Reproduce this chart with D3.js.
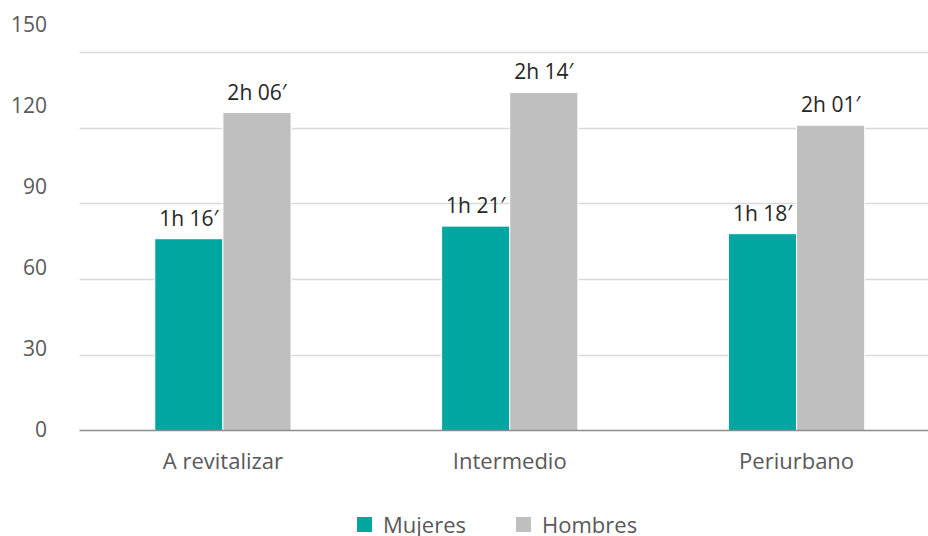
<!DOCTYPE html>
<html>
<head>
<meta charset="utf-8">
<script src="https://cdn.jsdelivr.net/npm/d3@7"></script>
<style>
  html, body { margin: 0; padding: 0; background: #fff; }
  svg { display: block; font-family: "Open Sans", "Noto Sans", sans-serif; }
</style>
</head>
<body>
<svg id="chart" width="928" height="536"></svg>
<script>
const categories = ["A revitalizar", "Intermedio", "Periurbano"];
const seriesNames = ["Mujeres", "Hombres"];
const mujeres = [76, 81, 78];
const hombres = [126, 134, 121];
const mujeresLabels = ["1h 16′", "1h 21′", "1h 18′"];
const hombresLabels = ["2h 06′", "2h 14′", "2h 01′"];
const yTicks = [0, 30, 60, 90, 120, 150];
const colors = ["#00A7A0", "#BFBFBF"];

const svg = d3.select("#chart");
const W = 928, H = 536;
const left = 79.5, right = 940;

const y = d3.scaleLinear().domain([0, 150]).range([430.5, 52]);
// tick labels in the reference are spread slightly wider than the gridlines
const yLab = d3.scaleLinear().domain([0, 150]).range([430, 25]);

const x0 = d3.scaleBand().domain(categories).range([left, right])
  .paddingInner(0.525).paddingOuter(0.2625);
const x1 = d3.scaleBand().domain(seriesNames).range([0, x0.bandwidth()]).padding(0);

// gridlines
svg.append("g").selectAll("line").data(yTicks.filter(d => d > 0)).join("line")
  .attr("x1", left).attr("x2", W)
  .attr("y1", d => Math.round(y(d)) + 0.5).attr("y2", d => Math.round(y(d)) + 0.5)
  .attr("stroke", "#D9D9D9").attr("stroke-width", 1.3);

// y tick labels
const yAxis = d3.axisLeft(yLab).tickValues(yTicks).tickSize(0).tickPadding(0);
const gy = svg.append("g").attr("transform", "translate(47,0)").call(yAxis);
gy.select(".domain").remove();
gy.selectAll("text").attr("font-size", 21).attr("fill", "#595959")
  .attr("font-family", "'Open Sans', sans-serif");

const data = categories.map((c, i) => ({
  cat: c,
  vals: [
    { s: "Mujeres", v: mujeres[i], lab: mujeresLabels[i] },
    { s: "Hombres", v: hombres[i], lab: hombresLabels[i] }
  ]
}));

const groups = svg.append("g").selectAll("g").data(data).join("g")
  .attr("transform", d => `translate(${x0(d.cat)},0)`);

groups.selectAll("rect").data(d => d.vals).join("rect")
  .attr("x", d => x1(d.s))
  .attr("width", x1.bandwidth())
  .attr("y", d => y(d.v))
  .attr("height", d => y(0) - y(d.v))
  .attr("fill", (d, i) => colors[i])
  .attr("stroke", "#fff").attr("stroke-width", 1);

groups.selectAll("text").data(d => d.vals).join("text")
  .attr("x", d => x1(d.s) + x1.bandwidth() / 2)
  .attr("y", d => y(d.v) - 13)
  .attr("text-anchor", "middle")
  .attr("font-size", 21)
  .attr("fill", "#262626")
  .text(d => d.lab);

// x axis baseline
svg.append("line")
  .attr("x1", left).attr("x2", W)
  .attr("y1", y(0)).attr("y2", y(0))
  .attr("stroke", "#8C8C8C").attr("stroke-width", 1.5);

// x category labels
const xAxis = d3.axisBottom(x0).tickSize(0).tickPadding(0);
const gx = svg.append("g").attr("transform", `translate(0,${y(0) + 23})`).call(xAxis);
gx.select(".domain").remove();
gx.selectAll("text").attr("font-size", 22).attr("fill", "#595959")
  .attr("font-family", "'Open Sans', sans-serif").attr("dy", "0.71em")
  .attr("y", 0);

// legend
const legend = svg.append("g").attr("transform", "translate(357,517)");
const legX = [0, 159];
seriesNames.forEach((s, i) => {
  const g = legend.append("g").attr("transform", `translate(${legX[i]},0)`);
  g.append("rect").attr("width", 15).attr("height", 15).attr("fill", colors[i]);
  g.append("text").attr("x", 26).attr("y", 15.5).attr("font-size", 22)
    .attr("fill", "#595959").text(s);
});
</script>
</body>
</html>
